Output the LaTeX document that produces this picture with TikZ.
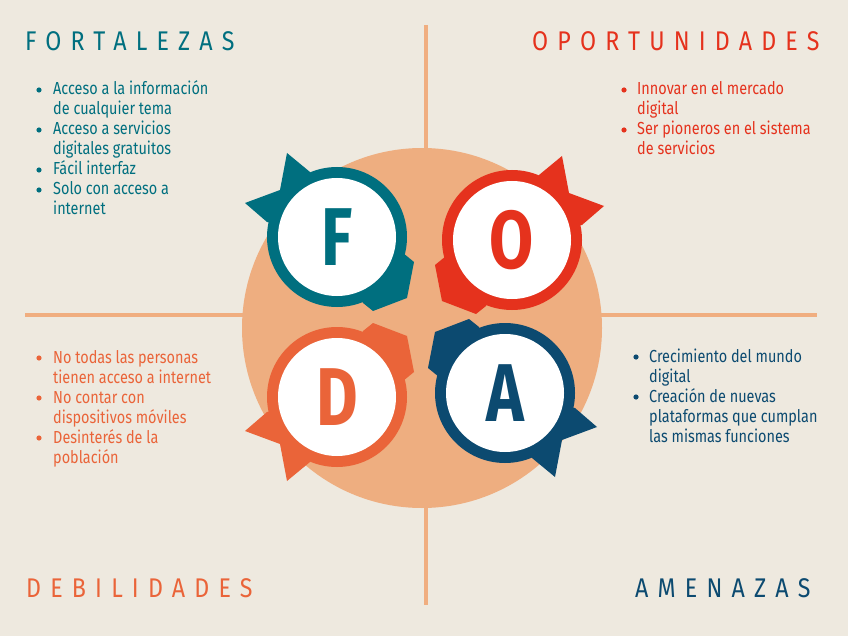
\documentclass[tikz,border=0pt]{standalone}
\usepackage{fontspec}
\setmainfont{Fira Sans}
\newfontfamily\bodyfont[FakeStretch=0.83]{Fira Sans}
\newfontfamily\titlefont[FakeStretch=0.86,LetterSpace=34]{Fira Sans}
\newfontfamily\letterfont[FakeStretch=0.78]{Fira Sans}
\definecolor{bgC}{HTML}{EEE9DF}
\definecolor{lineC}{HTML}{F0AE80}
\definecolor{circC}{HTML}{EEAE80}
\definecolor{fC}{HTML}{006F7F}
\definecolor{oC}{HTML}{E5321D}
\definecolor{dC}{HTML}{EA6439}
\definecolor{aC}{HTML}{0C4A70}
\tikzset{
  foda/.pic={
    \fill (0,0)--(-70,-15)--(-92,-34)--(-57,-47)--(-50,-84)--(-27,-65)--cycle;
    \fill (0,0)--(66,16)--(77,25)--(70,61)--(36,74)--(26,66)--cycle;
    \fill (0,0) circle[radius=70pt];
    \fill[white] (0,0) circle[radius=59pt];
  },
  bigletter/.style={font=\letterfont\bfseries\fontsize{82}{82}\selectfont, inner sep=0},
  titletext/.style={font=\titlefont\fontsize{27}{30}\selectfont, inner sep=0, anchor=base west},
  itemtext/.style={font=\bodyfont\fontsize{17.4}{20}\selectfont, inner sep=0, anchor=base west, align=left},
  guide/.style={draw=lineC, line width=4pt},
}
\begin{document}
\begin{tikzpicture}[x=1pt,y=-1pt]
\fill[bgC] (0,0) rectangle (848,636);
\useasboundingbox (0,0) rectangle (848,636);
% guide lines
\coordinate (vt) at (426,25);
\coordinate (vb) at (426,605);
\coordinate (hl) at (25,315);
\coordinate (hr) at (817,315);
\draw[guide] (vt) -- (vb);
\draw[guide] (hl) -- (hr);
% big circle
\fill[circC] (422,328) circle[radius=180pt];
% four badges
\pic[fill=fC] at (337,237) {foda};
\pic[fill=oC, xscale=-1] at (512,240) {foda};
\pic[fill=dC, yscale=-1] at (337,397) {foda};
\pic[fill=aC, xscale=-1, yscale=-1] at (505,393) {foda};
\node[bigletter, text=fC] (F) at (337,237) {F};
\node[bigletter, text=oC] (O) at (512,240) {O};
\node[bigletter, text=dC] (D) at (337,397) {D};
\node[bigletter, text=aC] (A) at (505,393) {A};
% titles
\node[titletext, text=fC] (tf) at (25,51) {FORTALEZAS};
\node[titletext, text=oC] (to) at (532,51) {OPORTUNIDADES};
\node[titletext, text=dC] (td) at (26,597) {DEBILIDADES};
\node[titletext, text=aC] (ta) at (635,597) {AMENAZAS};
% Fortalezas (node anchor = baseline of last line)
\begin{scope}[text=fC]
\fill[fC] (39,90) circle[radius=2.6pt];
\fill[fC] (39,130) circle[radius=2.6pt];
\fill[fC] (39,170) circle[radius=2.6pt];
\fill[fC] (39,190) circle[radius=2.6pt];
\node[itemtext] (f1) at (53,115) {Acceso a la información\\de cualquier tema};
\node[itemtext] (f2) at (53,155) {Acceso a servicios\\digitales gratuitos};
\node[itemtext] (f3) at (53,175) {Fácil interfaz};
\node[itemtext] (f4) at (53,215) {Solo con acceso a\\internet};
\end{scope}
% Oportunidades
\begin{scope}[text=oC]
\fill[oC] (624,90) circle[radius=2.6pt];
\fill[oC] (624,130) circle[radius=2.6pt];
\node[itemtext] (o1) at (637,115) {Innovar en el mercado\\digital};
\node[itemtext] (o2) at (637,155) {Ser pioneros en el sistema\\de servicios};
\end{scope}
% Debilidades
\begin{scope}[text=dC]
\fill[dC] (39,358) circle[radius=2.6pt];
\fill[dC] (39,398) circle[radius=2.6pt];
\fill[dC] (39,438) circle[radius=2.6pt];
\node[itemtext] (d1) at (53,383) {No todas las personas\\tienen acceso a internet};
\node[itemtext] (d2) at (53,423) {No contar con\\dispositivos móviles};
\node[itemtext] (d3) at (53,463) {Desinterés de la\\población};
\end{scope}
% Amenazas
\begin{scope}[text=aC]
\fill[aC] (636,357) circle[radius=2.6pt];
\fill[aC] (636,397) circle[radius=2.6pt];
\node[itemtext] (a1) at (649,382) {Crecimiento del mundo\\digital};
\node[itemtext] (a2) at (649,442) {Creación de nuevas\\plataformas que cumplan\\las mismas funciones};
\end{scope}
\end{tikzpicture}
\end{document}
